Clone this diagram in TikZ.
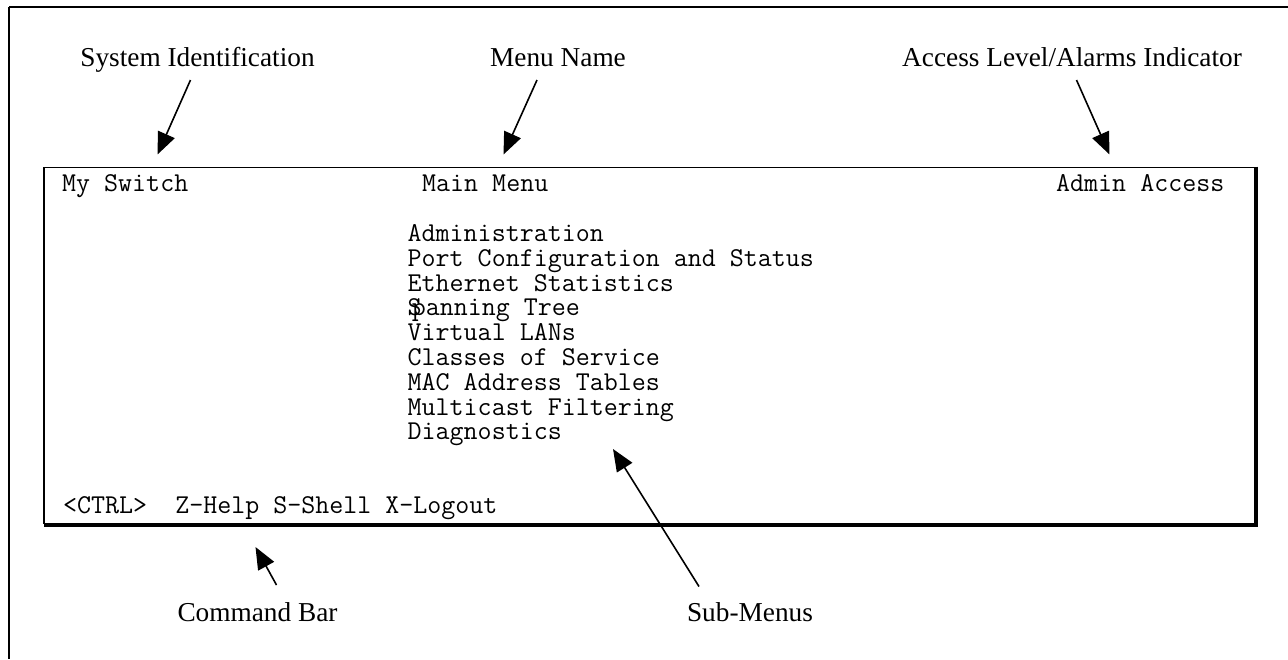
\documentclass[tikz,border=0pt]{standalone}
\usepackage{fontspec}
\setmainfont{Liberation Serif}
\usetikzlibrary{arrows.meta}
\tikzset{
  lbl/.style={font=\fontsize{27.3}{30}\selectfont, inner sep=0pt, anchor=base},
  term/.style={font=\ttfamily\fontsize{27.2}{24.8}\selectfont, inner sep=0pt, anchor=base west},
  callout/.style={line width=1.6pt, -{Triangle[length=22pt,width=18pt]}},
  frameline/.style={line width=2pt},
}
\begin{document}
\begin{tikzpicture}[x=1pt,y=-1pt]
\useasboundingbox (0,0) rectangle (1288,659);
% outer frame (top and left only)
\draw[frameline] (9,7) -- (1288,7);
\draw[frameline] (9,7) -- (9,659);
% terminal box with shadow
\draw[line width=1.5pt] (44,167.5) rectangle (1254.5,523.5);
\draw[line width=3.5pt] (44,525.3) -- (1257.8,525.3);
\draw[line width=3.5pt] (1256,166.5) -- (1256,527);
% terminal text
\node[term] (sysid) at (62,191) {My Switch};
\node[term] (menuname) at (422,191) {Main Menu};
\node[term] (access) at (1056,191) {Admin Access};
\node[term] (m1) at (407.5,241.5) {Administration};
\node[term] (m2) at (407.5,266.3) {Port Configuration and Status};
\node[term] (m3) at (407.5,291.1) {Ethernet Statistics};
\node[term] (m4) at (407.5,315.9) {\makebox[0pt][l]{S}\hspace{0.15em}panning Tree};
\node[term] (m5) at (407.5,340.7) {Virtual LANs};
\node[term] (m6) at (407.5,365.5) {Classes of Service};
\node[term] (m7) at (407.5,390.3) {MAC Address Tables};
\node[term] (m8) at (407.5,415.1) {Multicast Filtering};
\node[term] (m9) at (407.5,439.9) {Diagnostics};
\node[term] (cmdbar) at (63,513.3) {<CTRL>\ \ Z-Help S-Shell X-Logout};
% labels
\node[lbl] (Lsys) at (197.5,66.5) {System Identification};
\node[lbl] (Lmenu) at (558,66.5) {Menu Name};
\node[lbl] (Lacc) at (1072,66.5) {Access Level/Alarms Indicator};
\node[lbl] (Lcmd) at (257.5,621.5) {Command Bar};
\node[lbl] (Lsub) at (750,621.5) {Sub-Menus};
% arrow end points
\coordinate (tSys) at (190.5,80);
\coordinate (hSys) at (157.5,154.5);
\coordinate (tMenu) at (537,80);
\coordinate (hMenu) at (503.5,154.5);
\coordinate (tAcc) at (1076.5,80);
\coordinate (hAcc) at (1109.5,154.5);
\coordinate (tCmd) at (276.5,585);
\coordinate (hCmd) at (255.5,547);
\coordinate (tSub) at (699,586.5);
\coordinate (hSub) at (613,449);
% connectors
\draw[callout] (tSys) -- (hSys);
\draw[callout] (tMenu) -- (hMenu);
\draw[callout] (tAcc) -- (hAcc);
\draw[callout] (tCmd) -- (hCmd);
\draw[callout] (tSub) -- (hSub);
\end{tikzpicture}
\end{document}
